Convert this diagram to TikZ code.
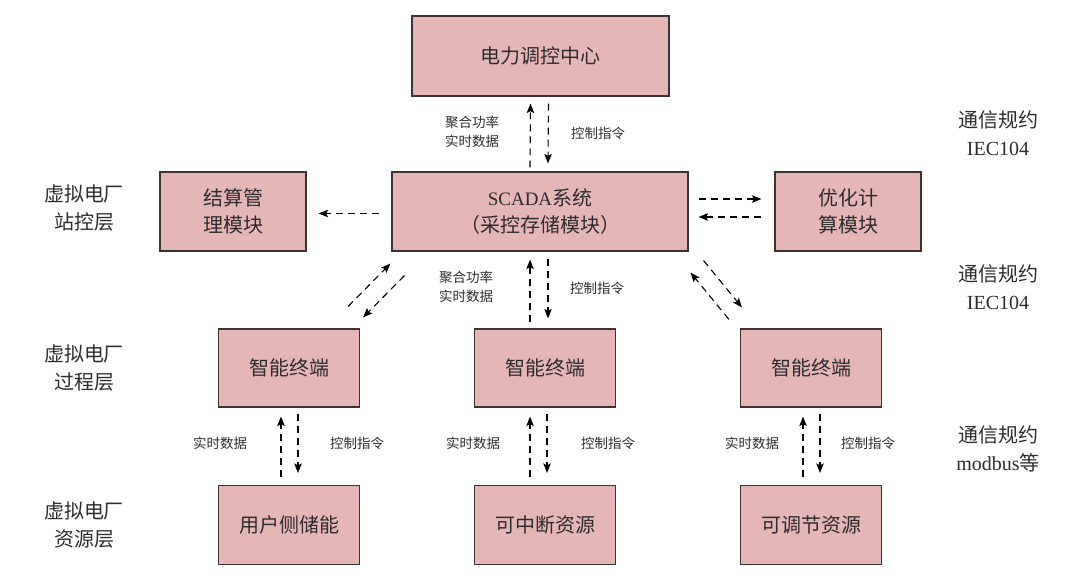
\documentclass[tikz,border=0pt]{standalone}
\usepackage{fontspec}
\setmainfont{Noto Sans CJK SC}
\newfontfamily\latf{Liberation Serif}
\usetikzlibrary{arrows.meta,calc}
\definecolor{boxfill}{RGB}{229,182,182}
\definecolor{boxline}{RGB}{60,50,50}
\definecolor{txt}{RGB}{45,45,45}
\newcommand{\lat}[2][20]{{\latf\fontsize{#1}{27}\selectfont #2}}
\begin{document}
\begin{tikzpicture}[x=1pt,y=-1pt,
  box/.style={draw=boxline, fill=boxfill, line width=1.2pt, text=txt, align=center, inner sep=0pt,
    font=\fontsize{20}{27}\selectfont},
  arr/.style={-{Stealth[length=9.5pt,width=7.5pt,inset=2pt]}, dash pattern=on 7pt off 5pt, line width=1.1pt, black},
  lbl/.style={font=\fontsize{13.5}{19}\selectfont, text=txt, align=center},
  side/.style={font=\fontsize{20}{28}\selectfont, text=txt, align=center}]
\useasboundingbox (0,0) rectangle (1080,585);

% boxes
\node[box, minimum width=257, minimum height=80] (top) at (540.5,56) {电力调控中心};
\node[box, minimum width=296, minimum height=79] (scada) at (540,211.5) {\lat[19]{SCADA}系统\\（采控存储模块）};
\node[box, minimum width=146, minimum height=79] (settle) at (233,211.5) {结算管\\理模块};
\node[box, minimum width=146, minimum height=79] (opt) at (848,211.5) {优化计\\算模块};
\node[box, minimum width=141, minimum height=78] (t1) at (289,368) {智能终端};
\node[box, minimum width=141, minimum height=78] (t2) at (545,368) {智能终端};
\node[box, minimum width=141, minimum height=78] (t3) at (811,368) {智能终端};
\node[box, minimum width=141, minimum height=79] (r1) at (289,525) {用户侧储能};
\node[box, minimum width=141, minimum height=79] (r2) at (545,525) {可中断资源};
\node[box, minimum width=141, minimum height=79] (r3) at (811,525) {可调节资源};

% side labels
\node[side] (s1) at (84,208) {虚拟电厂\\站控层};
\node[side] (s2) at (84,368) {虚拟电厂\\过程层};
\node[side] (s3) at (84,525) {虚拟电厂\\资源层};
\node[side] (c1) at (998,133) {通信规约\\\lat{IEC104}};
\node[side] (c2) at (998,287) {通信规约\\\lat{IEC104}};
\node[side] (c3) at (998,449) {通信规约\\\lat{modbus}等};

% top <-> scada
\draw[arr] ($(scada.north)+(-10,-4)$) -- ($(top.south)+(-10,7)$);
\draw[arr] ($(top.south)+(8,7)$) -- ($(scada.north)+(8,-8)$);
\node[lbl] (la1) at (472,132) {聚合功率\\实时数据};
\node[lbl] (lb1) at (598,133) {控制指令};

% scada -> settle
\draw[arr] ($(scada.west)+(-12,2)$) -- ($(settle.east)+(12,2)$);
% scada <-> opt
\draw[arr] ($(scada.east)+(10,-12.5)$) -- ($(opt.west)+(-13,-12.5)$);
\draw[arr] ($(opt.west)+(-13,5.5)$) -- ($(scada.east)+(10,5.5)$);

% scada <-> t2
\draw[arr] ($(t2.north)+(-15,-6)$) -- ($(scada.south)+(-10,8)$);
\draw[arr] ($(scada.south)+(8,7)$) -- ($(t2.north)+(3,-10)$);
\node[lbl] (la2) at (466,287) {聚合功率\\实时数据};
\node[lbl] (lb2) at (597,288) {控制指令};

% scada <-> t1 (diagonal)
\draw[arr] ($(t1.north east)+(-12,-22)$) -- ($(scada.south west)+(-1,12)$);
\draw[arr] ($(scada.south west)+(13,24)$) -- ($(t1.north east)+(3,-11)$);
% scada <-> t3 (diagonal)
\draw[arr] ($(t3.north west)+(-11,-9)$) -- ($(scada.south east)+(2,21)$);
\draw[arr] ($(scada.south east)+(15,9)$) -- ($(t3.north west)+(2,-21)$);

% terminals <-> resources
\draw[arr] ($(r1.north)+(-8,-8)$) -- ($(t1.south)+(-8,9)$);
\draw[arr] ($(t1.south)+(9,6)$) -- ($(r1.north)+(9,-12)$);
\node[lbl] (la3) at (220,443) {实时数据};
\node[lbl] (lb3) at (357,443) {控制指令};

\draw[arr] ($(r2.north)+(-15,-8)$) -- ($(t2.south)+(-15,9)$);
\draw[arr] ($(t2.south)+(2,6)$) -- ($(r2.north)+(2,-12)$);
\node[lbl] (la4) at (473,443) {实时数据};
\node[lbl] (lb4) at (608,443) {控制指令};

\draw[arr] ($(r3.north)+(-8,-8)$) -- ($(t3.south)+(-8,9)$);
\draw[arr] ($(t3.south)+(9,6)$) -- ($(r3.north)+(9,-12)$);
\node[lbl] (la5) at (752,443) {实时数据};
\node[lbl] (lb5) at (868,443) {控制指令};
\end{tikzpicture}
\end{document}
